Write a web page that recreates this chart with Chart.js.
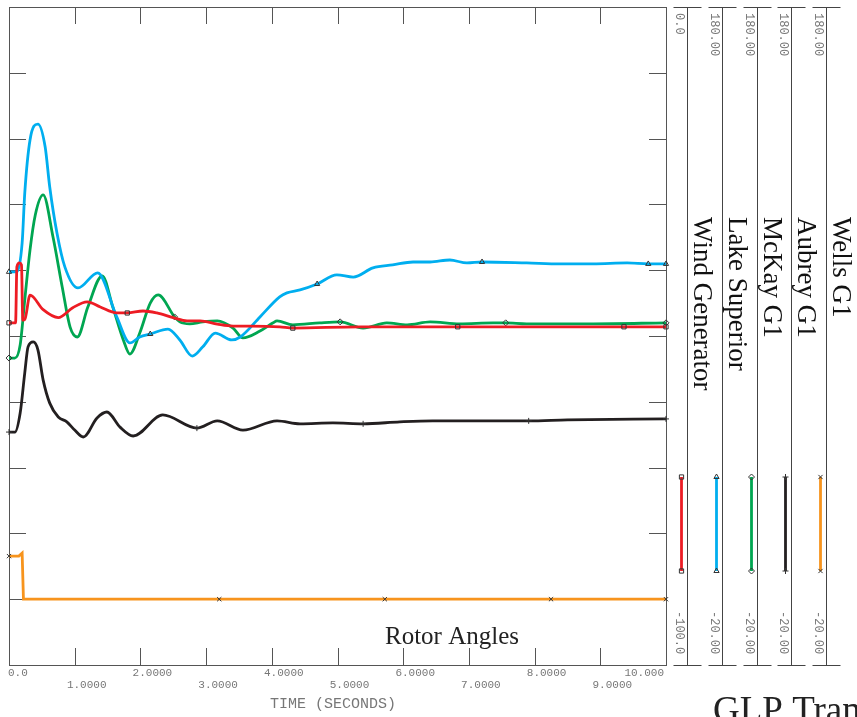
<!DOCTYPE html>
<html lang="en">
<head>
<meta charset="UTF-8">
<title>Rotor Angles</title>
<script src="https://cdn.jsdelivr.net/npm/chart.js"></script>
<style>
  html, body { margin: 0; padding: 0; background: #fff; }
  #wrap { width: 857px; height: 717px; overflow: hidden; }
</style>
</head>
<body>
<div id="wrap"><canvas id="rotorChart" width="857" height="717"></canvas></div>
<script>
  // channel order, left to right in the side panel
  const channelNames = ['Wind Generator', 'Lake Superior', 'McKay G1', 'Aubrey G1', 'Wells G1'];
  const channelColors = ['#ed1c24', '#00aeef', '#00a651', '#231f20', '#f7941d'];
  const channelMarks = ['rect', 'triangle', 'rectRot', 'cross', 'crossRot'];
  const scaleTop = ['0.0', '180.00', '180.00', '180.00', '180.00'];
  const scaleBottom = ['-100.0', '-20.00', '-20.00', '-20.00', '-20.00'];

  const timeTicks = [0, 1, 2, 3, 4, 5, 6, 7, 8, 9, 10];
  const timeLabels = ['0.0', '1.0000', '2.0000', '3.0000', '4.0000', '5.0000', '6.0000', '7.0000', '8.0000', '9.0000', '10.000'];

  // Wind Generator
  const windTime = [0, 0.10, 0.12, 0.16, 0.19, 0.21, 0.24, 0.32, 0.52, 0.75, 0.97, 1.19, 1.39, 1.64, 1.80, 2.04, 2.25, 2.50, 2.71, 2.91, 3.17, 3.41, 3.67, 4.12, 4.32, 5.34, 6.83, 8.89, 9.36, 10];
  const windAngle = [-48.0, -48.0, -39.5, -38.9, -39.2, -47.6, -47.5, -43.8, -46.0, -47.2, -45.7, -44.8, -45.6, -46.5, -46.5, -46.2, -46.5, -47.2, -47.7, -47.7, -48.2, -48.5, -48.5, -48.6, -48.8, -48.6, -48.6, -48.6, -48.6, -48.6];
  const windMarks = [0, 1.80, 4.32, 6.83, 9.36, 10];

  // Lake Superior
  const lakeTime = [0, 0.12, 0.20, 0.24, 0.32, 0.44, 0.55, 0.62, 0.73, 0.85, 1.05, 1.35, 1.64, 1.84, 1.99, 2.15, 2.42, 2.60, 2.79, 2.95, 3.14, 3.39, 3.52, 3.82, 4.12, 4.23, 4.43, 4.69, 4.99, 5.24, 5.54, 5.84, 6.15, 6.41, 6.71, 6.97, 7.20, 7.88, 8.39, 8.89, 9.41, 9.73, 10];
  const lakeAngle = [99.5, 99.5, 108.3, 123.5, 139.6, 144.4, 137.5, 125.3, 111.3, 101.0, 94.6, 99.2, 85.8, 77.9, 79.7, 80.6, 82.1, 78.8, 73.9, 76.7, 80.9, 78.8, 79.7, 85.8, 91.9, 93.1, 94.0, 95.8, 98.6, 97.9, 100.7, 101.6, 102.5, 102.5, 103.1, 102.2, 102.5, 102.2, 101.9, 101.9, 102.2, 101.9, 101.9];
  const lakeMarks = [0, 2.15, 4.69, 7.20, 9.73, 10];

  // McKay G1
  const mckayTime = [0, 0.09, 0.17, 0.24, 0.32, 0.40, 0.52, 0.67, 0.81, 0.93, 1.04, 1.20, 1.42, 1.58, 1.74, 1.84, 1.99, 2.15, 2.27, 2.52, 2.60, 2.75, 2.95, 3.17, 3.41, 3.56, 3.82, 4.02, 4.08, 4.32, 4.73, 5.04, 5.39, 5.75, 6.06, 6.41, 6.86, 7.37, 7.56, 7.88, 8.89, 10];
  const mckayAngle = [73.3, 73.3, 77.3, 91.0, 106.2, 116.8, 122.9, 110.1, 94.9, 82.7, 79.7, 88.8, 98.3, 88.8, 78.8, 74.5, 80.9, 90.0, 92.5, 85.8, 84.3, 83.7, 84.3, 84.6, 82.4, 79.4, 81.5, 84.0, 84.6, 83.4, 84.0, 84.3, 82.4, 84.0, 83.4, 84.3, 83.7, 84.0, 84.0, 83.7, 83.7, 84.0];
  const mckayMarks = [0, 2.52, 5.04, 7.56, 10];

  // Aubrey G1
  const aubreyTime = [0, 0.09, 0.17, 0.24, 0.29, 0.37, 0.44, 0.52, 0.62, 0.75, 0.88, 1.00, 1.13, 1.34, 1.49, 1.69, 1.89, 2.34, 2.86, 3.17, 3.56, 4.08, 4.43, 4.93, 5.39, 5.95, 6.45, 7.47, 7.91, 8.50, 10];
  const aubreyAngle = [50.8, 50.8, 56.6, 68.8, 76.7, 78.2, 75.8, 66.6, 59.6, 55.4, 53.9, 51.4, 49.3, 55.1, 56.9, 52.3, 49.6, 56.0, 52.0, 54.2, 51.4, 54.2, 53.3, 53.6, 53.3, 53.9, 54.2, 54.2, 54.2, 54.5, 54.8];
  const aubreyMarks = [0, 2.86, 5.39, 7.91, 10];

  // Wells G1
  const wellsTime = [0, 0.15, 0.20, 0.22, 3.20, 5.72, 8.25, 10];
  const wellsAngle = [13.1, 13.1, 14.0, 0, 0, 0, 0, 0];
  const wellsMarks = [0, 3.20, 5.72, 8.25, 10];

  const seriesTime = [windTime, lakeTime, mckayTime, aubreyTime, wellsTime];
  const seriesAngle = [windAngle, lakeAngle, mckayAngle, aubreyAngle, wellsAngle];
  const seriesMarks = [windMarks, lakeMarks, mckayMarks, aubreyMarks, wellsMarks];

  const datasets = channelNames.map((name, i) => ({
    label: name,
    data: seriesTime[i].map((t, k) => ({ x: t, y: seriesAngle[i][k] })),
    yAxisID: i === 0 ? 'yWind' : 'y',
    borderColor: channelColors[i],
    borderWidth: 2.8,
    cubicInterpolationMode: i === 4 ? 'default' : 'monotone',
    tension: i === 4 ? 0 : 0.4,
    pointStyle: channelMarks[i],
    pointRadius: ctx => (ctx.raw && seriesMarks[i].includes(ctx.raw.x)) ? 3 : 0,
    pointBorderColor: '#333',
    pointBackgroundColor: 'rgba(0,0,0,0)',
    pointBorderWidth: 1,
    clip: 8
  }));

  const mono = "'Liberation Mono', 'DejaVu Sans Mono', monospace";
  const serif = "'Liberation Serif', 'DejaVu Serif', serif";

  function downText(ctx, s, x, y) {
    ctx.save();
    ctx.translate(x, y);
    ctx.rotate(Math.PI / 2);
    ctx.fillText(s, 0, 0);
    ctx.restore();
  }

  // frame, inward ticks and the side panel
  const plotFrame = {
    id: 'plotFrame',
    beforeDatasetsDraw(chart) {
      const { ctx, chartArea: a, scales } = chart;
      ctx.save();
      ctx.strokeStyle = '#555';
      ctx.lineWidth = 1;
      ctx.strokeRect(a.left + 0.5, a.top + 0.5, a.right - a.left, a.bottom - a.top);
      ctx.beginPath();
      timeTicks.slice(1, -1).forEach(t => {
        const px = Math.round(scales.x.getPixelForValue(t)) + 0.5;
        ctx.moveTo(px, a.top); ctx.lineTo(px, a.top + 17);
        ctx.moveTo(px, a.bottom); ctx.lineTo(px, a.bottom - 17);
      });
      for (let v = 0; v <= 160; v += 20) {
        const py = Math.round(scales.y.getPixelForValue(v)) + 0.5;
        ctx.moveTo(a.left, py); ctx.lineTo(a.left + 17, py);
        ctx.moveTo(a.right, py); ctx.lineTo(a.right - 17, py);
      }
      ctx.stroke();
      ctx.restore();
    },
    afterDraw(chart) {
      const { ctx, chartArea: a, scales } = chart;
      ctx.save();

      // time axis labels, two staggered rows
      ctx.fillStyle = '#777';
      ctx.font = '11px ' + mono;
      ctx.textBaseline = 'alphabetic';
      timeTicks.forEach((t, i) => {
        const px = scales.x.getPixelForValue(t);
        const row = i % 2 === 0 ? 676 : 688;
        if (i === 0) { ctx.textAlign = 'left'; ctx.fillText(timeLabels[i], a.left - 1, row); }
        else if (i === timeTicks.length - 1) { ctx.textAlign = 'right'; ctx.fillText(timeLabels[i], a.right - 2, row); }
        else { ctx.textAlign = 'center'; ctx.fillText(timeLabels[i], px + 12, row); }
      });
      ctx.font = '15px ' + mono;
      ctx.textAlign = 'center';
      ctx.fillText('TIME (SECONDS)', 333, 708);

      ctx.fillStyle = '#222';
      ctx.font = '25px ' + serif;
      ctx.fillText('Rotor Angles', 452, 644);

      ctx.textAlign = 'left';
      ctx.font = '37px ' + serif;
      ctx.fillText('GLP Transient', 713, 722);

      // side panel columns
      channelNames.forEach((name, i) => {
        const lx = Math.round(687 + i * 34.8) + 0.5;
        ctx.strokeStyle = '#444';
        ctx.lineWidth = 1;
        ctx.beginPath();
        ctx.moveTo(lx, a.top); ctx.lineTo(lx, a.bottom);
        ctx.moveTo(lx - 14, a.top + 0.5); ctx.lineTo(lx + 14, a.top + 0.5);
        ctx.moveTo(lx - 14, a.bottom + 0.5); ctx.lineTo(lx + 14, a.bottom + 0.5);
        ctx.stroke();

        ctx.fillStyle = '#777';
        ctx.font = '12px ' + mono;
        downText(ctx, scaleTop[i], lx - 12, 13);
        downText(ctx, scaleBottom[i], lx - 12, 611);

        ctx.fillStyle = '#111';
        ctx.font = '27px ' + serif;
        downText(ctx, name, lx + 6, 217);

        // sample line with its markers
        const sx = lx - 6;
        ctx.strokeStyle = channelColors[i];
        ctx.lineWidth = 2.8;
        ctx.beginPath();
        ctx.moveTo(sx, 477); ctx.lineTo(sx, 571);
        ctx.stroke();
        ctx.strokeStyle = '#333';
        ctx.fillStyle = 'rgba(0,0,0,0)';
        ctx.lineWidth = 1;
        [477, 571].forEach(yy => {
          Chart.helpers.drawPoint(ctx, { pointStyle: channelMarks[i], radius: 3, borderWidth: 1, rotation: 0 }, sx, yy);
        });
      });
      ctx.restore();
    }
  };

  new Chart(document.getElementById('rotorChart'), {
    type: 'line',
    data: { datasets },
    options: {
      responsive: false,
      animation: false,
      layout: { padding: { left: 9, top: 7, right: 191, bottom: 52 } },
      scales: {
        x: { type: 'linear', min: timeTicks[0], max: timeTicks[timeTicks.length - 1], display: false },
        y: { min: parseFloat(scaleBottom[1]), max: parseFloat(scaleTop[1]), display: false },
        yWind: { min: parseFloat(scaleBottom[0]), max: parseFloat(scaleTop[0]), display: false }
      },
      plugins: {
        legend: { display: false },
        tooltip: { enabled: false }
      }
    },
    plugins: [plotFrame]
  });
</script>
</body>
</html>
